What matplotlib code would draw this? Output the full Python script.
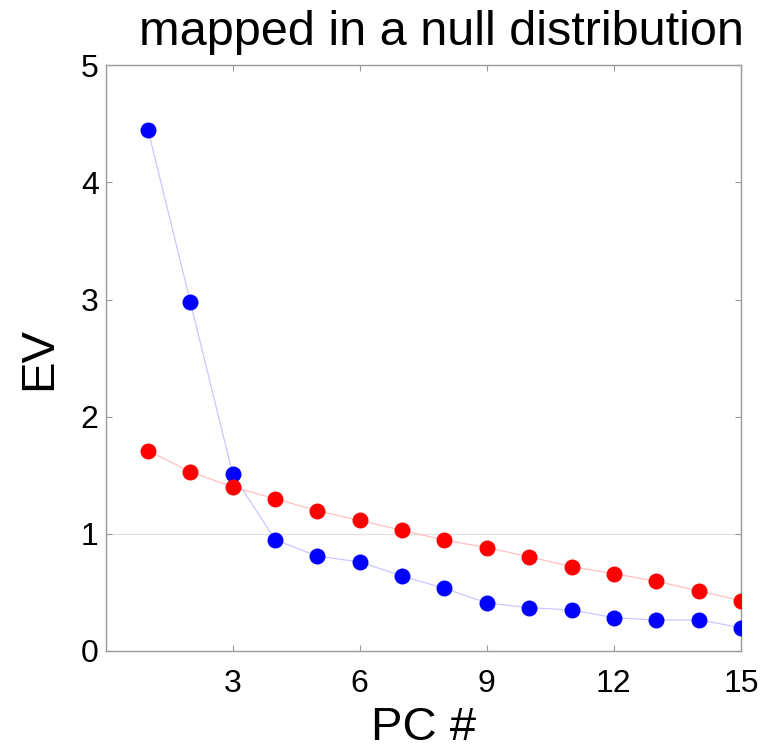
import matplotlib
matplotlib.use("Agg")
import matplotlib.pyplot as plt

plt.rcParams['font.family'] = ['Liberation Sans', 'DejaVu Sans']

pc = list(range(1, 16))
ev_data = [4.45, 2.98, 1.51, 0.95, 0.81, 0.76, 0.64, 0.535, 0.41, 0.37, 0.35, 0.285, 0.263, 0.266, 0.20]
ev_null = [1.71, 1.53, 1.40, 1.30, 1.197, 1.114, 1.03, 0.946, 0.883, 0.805, 0.72, 0.66, 0.595, 0.514, 0.43]
xticks = [3, 6, 9, 12, 15]
yticks = [0, 1, 2, 3, 4, 5]
title = "mapped in a null distribution"

fig = plt.figure(figsize=(7.71, 7.50), dpi=100)
ax = fig.add_axes([0.137, 0.132, 0.824, 0.781])

ax.axhline(1, color='#e2e2e2', lw=0.9, zorder=1)
ax.plot(pc, ev_data, '-', color='#c8c8ff', lw=0.9, zorder=2)
ax.plot(pc, ev_data, 'o', color='#0000ff', ms=11.5, mec='none', zorder=3)
ax.plot(pc, ev_null, '-', color='#ffc0c0', lw=0.9, zorder=4)
ax.plot(pc, ev_null, 'o', color='#ff0000', ms=11.5, mec='none', zorder=5)

ax.set_xlim(0, 15)
ax.set_ylim(0, 5)
ax.set_xticks(xticks)
ax.set_yticks(yticks)
ax.tick_params(direction='in', length=4, width=0.8, color='#9a9a9a',
               labelsize=23, top=True, right=True)
ax.tick_params(axis='x', pad=13)
ax.tick_params(axis='y', pad=5)
for s in ax.spines.values():
    s.set_color('#9a9a9a')
    s.set_linewidth(1.0)

ax.set_xlabel('PC #', fontsize=34, labelpad=5)
ax.set_ylabel('EV', fontsize=34, labelpad=14)
fig.text(0.573, 0.940, title, fontsize=35, ha='center', va='baseline')

fig.savefig('out.png', dpi=100)
